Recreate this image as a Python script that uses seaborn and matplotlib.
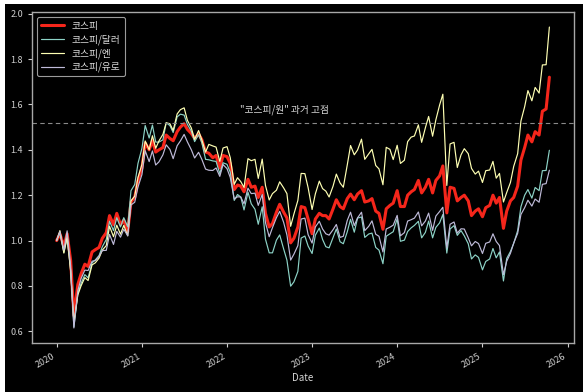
import matplotlib
matplotlib.use("Agg")
import matplotlib.pyplot as plt
import matplotlib.dates as mdates
from matplotlib.patches import Rectangle
import pandas as pd
import seaborn as sns

# semi-monthly sampling dates (1st and 15th)
dates = pd.date_range("2020-01-01", "2025-10-15", freq="SMS")

kospi = [
    1.000, 1.030, 0.975, 1.030, 0.913, 0.670, 0.807, 0.854, 0.896, 0.886, 0.950, 0.960,
    0.970, 1.010, 1.035, 1.110, 1.070, 1.120, 1.070, 1.090, 1.040, 1.170, 1.190, 1.265,
    1.320, 1.430, 1.400, 1.440, 1.390, 1.400, 1.410, 1.465, 1.450, 1.440, 1.480, 1.500,
    1.515, 1.490, 1.472, 1.450, 1.470, 1.445, 1.390, 1.385, 1.365, 1.375, 1.320, 1.375,
    1.370, 1.340, 1.225, 1.245, 1.240, 1.215, 1.270, 1.235, 1.240, 1.190, 1.235, 1.120,
    1.060, 1.075, 1.125, 1.160, 1.125, 1.100, 0.990, 1.010, 1.060, 1.150, 1.145, 1.095,
    1.030, 1.095, 1.120, 1.110, 1.110, 1.095, 1.140, 1.180, 1.150, 1.140, 1.185, 1.205,
    1.180, 1.205, 1.220, 1.170, 1.175, 1.185, 1.130, 1.120, 1.050, 1.140, 1.155, 1.165,
    1.220, 1.150, 1.150, 1.200, 1.215, 1.225, 1.265, 1.210, 1.235, 1.270, 1.210, 1.265,
    1.285, 1.329, 1.122, 1.235, 1.230, 1.175, 1.190, 1.200, 1.175, 1.110, 1.130, 1.140,
    1.105, 1.145, 1.155, 1.200, 1.165, 1.190, 1.054, 1.130, 1.175, 1.190, 1.240, 1.355,
    1.410, 1.465, 1.435, 1.480, 1.465, 1.570, 1.580, 1.720,
]
kospi_usd = [
    1.000, 1.033, 0.948, 1.009, 0.871, 0.620, 0.766, 0.812, 0.850, 0.836, 0.902, 0.915,
    0.934, 0.973, 1.005, 1.085, 1.044, 1.101, 1.060, 1.101, 1.061, 1.220, 1.247, 1.340,
    1.407, 1.507, 1.452, 1.509, 1.434, 1.434, 1.444, 1.519, 1.507, 1.476, 1.545, 1.557,
    1.553, 1.512, 1.482, 1.436, 1.467, 1.431, 1.358, 1.356, 1.351, 1.349, 1.295, 1.343,
    1.336, 1.301, 1.177, 1.203, 1.192, 1.135, 1.213, 1.162, 1.138, 1.072, 1.149, 1.006,
    0.946, 0.946, 1.002, 1.025, 0.963, 0.914, 0.799, 0.818, 0.864, 1.011, 1.020, 0.976,
    0.943, 1.024, 1.055, 1.005, 0.973, 0.968, 1.013, 1.051, 0.995, 0.986, 1.039, 1.094,
    1.037, 1.099, 1.104, 1.014, 1.029, 1.033, 0.970, 0.958, 0.898, 1.019, 1.030, 1.039,
    1.096, 0.997, 1.002, 1.040, 1.056, 1.067, 1.085, 1.012, 1.036, 1.086, 1.012, 1.058,
    1.078, 1.115, 0.945, 1.051, 1.066, 1.023, 1.044, 1.021, 0.986, 0.919, 0.937, 0.926,
    0.871, 0.908, 0.919, 0.965, 0.924, 0.950, 0.822, 0.921, 0.952, 0.988, 1.044, 1.149,
    1.200, 1.225, 1.187, 1.234, 1.220, 1.308, 1.309, 1.398,
]
kospi_jpy = [
    1.000, 1.044, 0.945, 1.019, 0.865, 0.640, 0.761, 0.801, 0.837, 0.824, 0.893, 0.902,
    0.923, 0.958, 0.978, 1.063, 1.017, 1.068, 1.028, 1.067, 1.021, 1.175, 1.196, 1.278,
    1.336, 1.439, 1.400, 1.462, 1.407, 1.439, 1.468, 1.519, 1.515, 1.485, 1.558, 1.577,
    1.585, 1.530, 1.496, 1.446, 1.485, 1.444, 1.390, 1.424, 1.417, 1.412, 1.349, 1.408,
    1.414, 1.365, 1.248, 1.277, 1.260, 1.234, 1.361, 1.352, 1.358, 1.274, 1.359, 1.243,
    1.179, 1.207, 1.222, 1.259, 1.232, 1.207, 1.063, 1.117, 1.177, 1.296, 1.295, 1.233,
    1.137, 1.206, 1.262, 1.229, 1.218, 1.192, 1.240, 1.293, 1.254, 1.235, 1.334, 1.419,
    1.378, 1.399, 1.447, 1.358, 1.382, 1.402, 1.331, 1.316, 1.246, 1.411, 1.402, 1.357,
    1.420, 1.340, 1.354, 1.436, 1.456, 1.461, 1.510, 1.433, 1.497, 1.547, 1.460, 1.532,
    1.597, 1.645, 1.243, 1.426, 1.433, 1.322, 1.378, 1.405, 1.383, 1.318, 1.293, 1.306,
    1.256, 1.308, 1.311, 1.349, 1.275, 1.296, 1.170, 1.212, 1.256, 1.327, 1.383, 1.527,
    1.590, 1.661, 1.616, 1.675, 1.650, 1.774, 1.775, 1.941,
]
kospi_eur = [
    1.000, 1.040, 0.958, 1.043, 0.888, 0.615, 0.780, 0.833, 0.870, 0.868, 0.909, 0.912,
    0.931, 0.956, 0.957, 1.027, 0.983, 1.041, 1.015, 1.050, 1.021, 1.157, 1.169, 1.236,
    1.291, 1.396, 1.348, 1.395, 1.333, 1.347, 1.378, 1.422, 1.402, 1.361, 1.418, 1.439,
    1.468, 1.435, 1.400, 1.364, 1.389, 1.358, 1.315, 1.310, 1.309, 1.320, 1.283, 1.335,
    1.317, 1.278, 1.183, 1.193, 1.192, 1.162, 1.231, 1.207, 1.209, 1.155, 1.203, 1.079,
    1.017, 1.057, 1.101, 1.129, 1.080, 1.025, 0.914, 0.940, 0.978, 1.095, 1.099, 1.026,
    0.989, 1.060, 1.085, 1.051, 1.030, 1.024, 1.048, 1.071, 1.014, 1.019, 1.089, 1.125,
    1.066, 1.100, 1.125, 1.044, 1.063, 1.087, 1.028, 1.019, 0.950, 1.051, 1.059, 1.068,
    1.111, 1.021, 1.035, 1.086, 1.092, 1.099, 1.126, 1.065, 1.086, 1.121, 1.045, 1.108,
    1.128, 1.147, 0.967, 1.072, 1.082, 1.033, 1.052, 1.051, 1.012, 0.977, 0.996, 0.987,
    0.943, 0.988, 0.994, 1.030, 0.996, 0.978, 0.850, 0.909, 0.944, 0.989, 1.032, 1.115,
    1.145, 1.178, 1.152, 1.183, 1.169, 1.248, 1.251, 1.310,
]

labels = ["코스피", "코스피/달러", "코스피/엔", "코스피/유로"]
peak_level = 1.52
peak_text = '"코스피/원" 과거 고점'
peak_text_pos = ("2022-09-05", 1.577)

colors = ["#f5261b", "#8dd3c7", "#feffb3", "#bfbbd9"]
widths = [2.2, 0.85, 0.85, 0.85]

sns.set_theme(style="dark")
plt.rcParams["font.family"] = ["Noto Sans CJK KR", "DejaVu Sans"]

W, H = 583, 392
fig = plt.figure(figsize=(W / 100, H / 100), dpi=100, facecolor="white")
fig.patches.append(Rectangle((5 / W, 0), (W - 5) / W, (H - 4) / H,
                             transform=fig.transFigure, facecolor="black",
                             edgecolor="none", zorder=-10))
ax = fig.add_axes([32 / W, 1 - 343 / H, (574 - 32) / W, (343 - 12) / H])
ax.set_facecolor("black")

series = [kospi, kospi_usd, kospi_jpy, kospi_eur]
for vals, lab, col, lw in zip(series, labels, colors, widths):
    sns.lineplot(x=dates, y=vals, ax=ax, color=col, linewidth=lw, label=lab)

ax.axhline(peak_level, color="#8a8a8a", linestyle=(0, (4, 3)), linewidth=0.8)
ax.text(pd.Timestamp(peak_text_pos[0]), peak_text_pos[1], peak_text,
        color="#d8d8d8", fontsize=7, ha="center", va="center")

ax.grid(False)
ax.xaxis.set_major_locator(mdates.YearLocator())
ax.xaxis.set_major_formatter(mdates.DateFormatter("%Y"))
for lbl in ax.get_xticklabels():
    lbl.set_rotation(30)
    lbl.set_ha("right")
ax.tick_params(axis="both", colors="#cfcfcf", labelsize=6.5, length=3, width=0.8,
               bottom=True, left=True)
for sp in ax.spines.values():
    sp.set_color("#a8a8a8")
    sp.set_linewidth(1.0)
ax.set_xlabel("Date", color="#d8d8d8", fontsize=7, labelpad=2)
ax.set_ylabel("")

leg = ax.legend(loc="upper left", fontsize=7, frameon=True, facecolor="black",
                edgecolor="#9a9a9a", labelcolor="#dcdcdc", framealpha=1.0,
                borderpad=0.4, handlelength=2.4, labelspacing=0.35)
leg.get_frame().set_linewidth(0.8)

fig.savefig("out.png", dpi=100, facecolor=fig.get_facecolor())
